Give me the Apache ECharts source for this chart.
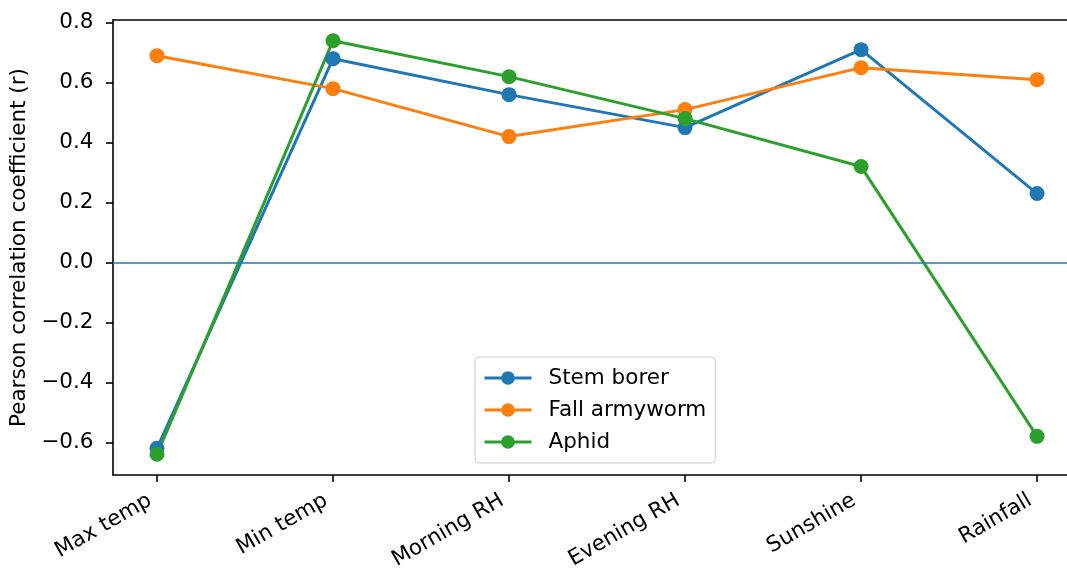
<!DOCTYPE html>
<html>
<head>
<meta charset="utf-8">
<title>Pearson correlation</title>
<script src="https://cdn.jsdelivr.net/npm/echarts@6/dist/echarts.min.js"></script>
<style>
  html, body { margin: 0; padding: 0; background: #fff; }
  #chart { width: 1067px; height: 569px; }
</style>
</head>
<body>
<div id="chart"></div>
<script>
const categories = ['Max temp', 'Min temp', 'Morning RH', 'Evening RH', 'Sunshine', 'Rainfall'];
const stemBorer = [-0.62, 0.68, 0.56, 0.45, 0.71, 0.23];
const fallArmyworm = [0.69, 0.58, 0.42, 0.51, 0.65, 0.61];
const aphid = [-0.64, 0.74, 0.62, 0.48, 0.32, -0.58];

const seriesNames = ['Stem borer', 'Fall armyworm', 'Aphid'];
const seriesColors = ['#1f77b4', '#ff7f0e', '#2ca02c'];
const seriesValues = [stemBorer, fallArmyworm, aphid];

const FONT = 'DejaVu Sans';
const FS = 21.5;

// the original figure is cut off on the right, so the x range stops short of 5.25
const X_MIN = -0.25;
const X_MAX = 5.17;

const chart = echarts.init(document.getElementById('chart'));

function fmtY(v) {
  if (Math.abs(v * 5 - Math.round(v * 5)) > 1e-6) return '';
  return v.toFixed(1).replace('-', '\u2212');
}

const series = seriesValues.map((vals, s) => {
  const item = {
    name: seriesNames[s],
    type: 'line',
    data: vals.map((v, i) => [i, v]),
    symbol: 'circle',
    symbolSize: 15,
    color: seriesColors[s],
    lineStyle: { width: 3, color: seriesColors[s] },
    itemStyle: { color: seriesColors[s] }
  };
  if (s === 0) {
    // horizontal reference at r = 0
    item.markLine = {
      silent: true,
      symbol: ['none', 'none'],
      label: { show: false },
      lineStyle: { color: '#1f77b4', width: 1.5, type: 'solid' },
      data: [{ yAxis: 0 }]
    };
  }
  return item;
});

const option = {
  animation: false,
  textStyle: { fontFamily: FONT },
  grid: {
    left: 113,
    right: 0,
    top: 20,
    bottom: 94,
    outerBoundsMode: 'none'
  },
  legend: {
    orient: 'vertical',
    left: 475,
    top: 357,
    padding: [10, 9, 10, 8],
    itemWidth: 47,
    itemHeight: 17,
    itemGap: 10,
    backgroundColor: 'rgba(255,255,255,0.8)',
    borderColor: '#cccccc',
    borderWidth: 1,
    borderRadius: 4,
    data: seriesNames,
    lineStyle: { width: 3 },
    textStyle: { fontFamily: FONT, fontSize: FS, color: '#000', padding: [0, 0, 0, 12] }
  },
  xAxis: [
    {
      type: 'value',
      min: X_MIN,
      max: X_MAX,
      minInterval: 1,
      maxInterval: 1,
      splitLine: { show: false },
      axisLine: { onZero: false, lineStyle: { color: '#000', width: 1.6 } },
      axisTick: { length: 7, lineStyle: { color: '#000', width: 1.6 } },
      axisLabel: {
        rotate: 30,
        margin: 20,
        padding: [0, 8, 0, 0],
        fontFamily: FONT,
        fontSize: FS,
        color: '#000',
        showMinLabel: false,
        showMaxLabel: false,
        formatter: (v) => (Number.isInteger(v) && categories[v]) ? categories[v] : ''
      }
    },
    {
      // top spine only
      type: 'value',
      position: 'top',
      min: X_MIN,
      max: X_MAX,
      splitLine: { show: false },
      axisLine: { show: true, onZero: false, lineStyle: { color: '#000', width: 1.6 } },
      axisTick: { show: false },
      axisLabel: { show: false }
    }
  ],
  yAxis: {
    type: 'value',
    min: -0.709,
    max: 0.809,
    minInterval: 0.2,
    maxInterval: 0.2,
    splitLine: { show: false },
    axisLine: { show: true, onZero: false, lineStyle: { color: '#000', width: 1.6 } },
    axisTick: { length: 7, lineStyle: { color: '#000', width: 1.6 } },
    axisLabel: {
      margin: 19.5,
      fontFamily: FONT,
      fontSize: FS,
      color: '#000',
      showMinLabel: false,
      showMaxLabel: false,
      formatter: fmtY
    },
    name: 'Pearson correlation coefficient (r)',
    nameLocation: 'middle',
    nameGap: 78,
    nameTextStyle: { fontFamily: FONT, fontSize: FS, color: '#000' }
  },
  series: series
};

chart.setOption(option);
</script>
</body>
</html>
